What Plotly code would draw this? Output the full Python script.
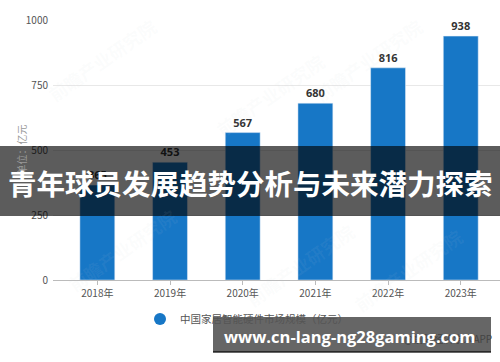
import plotly.graph_objects as go

years = ["2018年", "2019年", "2020年", "2021年", "2022年", "2023年"]
values = [365, 453, 567, 680, 816, 938]
series_name = "中国家居智能硬件市场规模（亿元）"
y_ticks = [0, 250, 500, 750, 1000]
title_text = "青年球员发展趋势分析与未来潜力探索"
url_text = "www.cn-lang-ng28gaming.com"
source_text = "@前瞻经济学人APP"
y_title = "单位：亿元"

BLUE = "#1777c6"
W, H = 500, 362
L, R, T, B = 53, 0, 20, 82
PW, PH = W - L - R, H - T - B


def px(x):
    return (x - L) / PW


def py(y):
    return (H - B - y) / PH


FONT = "Noto Sans CJK SC, Open Sans, sans-serif"

fig = go.Figure()
fig.add_trace(go.Bar(
    x=years, y=values, marker_color=BLUE, width=0.48,
    text=values, textposition="outside", cliponaxis=False,
    texttemplate="<b>%{text}</b>",
    textfont=dict(size=11, color="#333333", family="Open Sans, sans-serif"),
    showlegend=False,
))
fig.add_trace(go.Scatter(
    x=[None], y=[None], mode="markers", name=series_name,
    marker=dict(color=BLUE, size=10, symbol="circle"),
))

fig.update_layout(
    width=W, height=H,
    margin=dict(l=L, r=R, t=T, b=B, pad=0),
    paper_bgcolor="white", plot_bgcolor="white",
    font=dict(family=FONT, size=10, color="#555555"),
    xaxis=dict(
        range=[-0.61, 5.54], showgrid=False, showline=True, linecolor="#bbbbbb",
        ticks="outside", ticklen=4, tickcolor="#bbbbbb",
        tickfont=dict(size=10, color="#555555"),
    ),
    yaxis=dict(
        range=[0, 1000], tickvals=y_ticks, gridcolor="#e8e8e8", zeroline=False,
        showline=False, ticks="", tickfont=dict(size=10, color="#555555"),
        ticklabelstandoff=4,
    ),
    showlegend=True,
    legend=dict(
        orientation="h", x=px(140), xanchor="left", y=py(319), yanchor="middle",
        font=dict(size=10.5, color="#555555"), bgcolor="rgba(0,0,0,0)",
        itemsizing="constant",
    ),
)

annotations = []
# faint watermarks
for (wx, wy) in [(40, 60), (270, 95), (430, 60), (470, 270), (60, 250), (300, 265)]:
    annotations.append(dict(
        x=px(wx), y=py(wy), xref="paper", yref="paper", text="<b>前瞻产业研究院</b>",
        showarrow=False, textangle=-35, yanchor="middle",
        font=dict(size=18, color="rgba(200,208,220,0.07)", family=FONT),
    ))
annotations.append(dict(
    x=px(11), y=py(150), xref="paper", yref="paper", text=y_title, yanchor="middle",
    showarrow=False, textangle=-90, font=dict(size=10, color="#999999", family=FONT),
))
annotations.append(dict(
    x=px(494), y=py(338), xref="paper", yref="paper", text=source_text,
    xanchor="right", yanchor="middle", showarrow=False,
    font=dict(size=10, color="#444444", family=FONT),
))
annotations.append(dict(
    x=px(250), y=py(182), xref="paper", yref="paper", text="<b>" + title_text + "</b>",
    yanchor="middle", showarrow=False, font=dict(size=28.5, color="white", family=FONT),
))
annotations.append(dict(
    x=px(350), y=py(336), xref="paper", yref="paper", text="<b>" + url_text + "</b>",
    yanchor="middle", showarrow=False,
    font=dict(size=16.5, color="white", family="Open Sans, sans-serif"),
))
fig.update_layout(annotations=annotations)

fig.update_layout(shapes=[
    dict(type="rect", xref="paper", yref="paper", x0=px(0), x1=px(500),
         y0=py(216), y1=py(146), fillcolor="rgba(0,0,0,0.64)", line_width=0, layer="above"),
    dict(type="rect", xref="paper", yref="paper", x0=px(213), x1=px(491),
         y0=py(352), y1=py(317), fillcolor="rgba(0,0,0,0.6)", line_width=0, layer="above"),
    dict(type="line", xref="paper", yref="paper", x0=px(213), x1=px(491),
         y0=py(352), y1=py(352), line=dict(color="rgba(0,0,0,0.8)", width=1.5), layer="above"),
])

fig.write_html("out.html", config={"displayModeBar": False},
               post_script="document.body.style.margin='0';")
